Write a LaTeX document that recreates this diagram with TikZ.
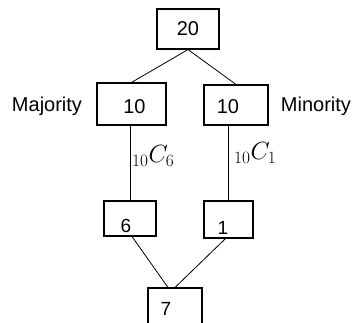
\documentclass[tikz,border=0pt]{standalone}
\usepackage{fontspec}
\setmainfont{Liberation Sans}
\usetikzlibrary{calc}
\begin{document}
\begin{tikzpicture}[x=1pt,y=-1pt,
  box/.style={draw, line width=1.1pt, inner sep=0pt},
  big/.style={font=\fontsize{20}{22}\selectfont},
  small/.style={font=\fontsize{19}{21}\selectfont, inner sep=0pt},
  conn/.style={line width=0.8pt},
  vline/.style={line width=0.9pt},
  comb/.style={font=\fontsize{23}{25}\selectfont, anchor=west, inner sep=0pt}]
\useasboundingbox (0,0) rectangle (354,322);
% boxes
\node[box, big, minimum width=62pt, minimum height=40pt] (b20) at (188,29) {20};
\node[box, minimum width=69pt, minimum height=42pt] (bmaj) at (131.5,104) {};
\node[box, minimum width=64pt, minimum height=40pt] (bmin) at (236,105) {};
\node[box, minimum width=52pt, minimum height=35pt] (b6) at (130,218.5) {};
\node[box, minimum width=49pt, minimum height=37pt] (b1) at (228.5,219.5) {};
\node[box, minimum width=54pt, minimum height=36pt] (b7) at (175,306) {};
% box texts
\node[big, inner sep=0pt] (tmaj) at (134.5,107) {10};
\node[big, inner sep=0pt] (tmin) at (228,107) {10};
\node[small] (t6) at (126,226) {6};
\node[small] (t1) at (223,228) {1};
\node[small] (t7) at (166,309) {7};
% side labels
\node[big, inner sep=0pt] (lmaj) at (47,106) {Majority};
\node[big, inner sep=0pt] (lmin) at (316,106) {Minority};
% connectors
\draw[conn] (b20.south) -- (bmaj.north);
\draw[conn] (b20.south) -- (bmin.north);
\draw[vline] (bmaj.south -| b6.north) -- (b6.north);
\draw[vline] (bmin.south -| b1.north) -- (b1.north);
\draw[conn] ($(b6.south)+(2,0)$) -- ($(b7.north)+(-7,0)$);
\draw[conn] ($(b1.south)+(-3,0)$) -- ($(b7.north)+(0,0)$);
% combination labels
\node[comb] (c6) at (132,156) {${}_{10}C_6$};
\node[comb] (c1) at (234,153) {${}_{10}C_1$};
\end{tikzpicture}
\end{document}
